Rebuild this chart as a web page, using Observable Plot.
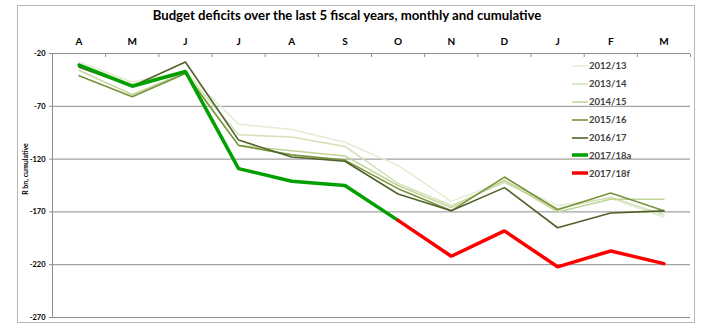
<!DOCTYPE html>
<html><head><meta charset="utf-8">
<script src="https://cdn.jsdelivr.net/npm/d3@7"></script>
<script src="https://cdn.jsdelivr.net/npm/@observablehq/plot@0.6"></script>
<style>
body{margin:0;background:#fff;font-family:Lato,"Open Sans",sans-serif;}
#wrap{position:relative;width:702px;height:327px;overflow:hidden;}
#frame{position:absolute;left:17px;top:5px;width:678px;height:318px;border:1px solid #b8b8b8;box-sizing:border-box;}
#title{position:absolute;left:0;width:694px;top:7px;text-align:center;font-weight:bold;font-size:13.2px;color:#000;}
#ylab{position:absolute;left:25px;top:169px;transform:translate(-50%,-50%) rotate(-90deg);font-size:7px;font-weight:bold;color:#000;white-space:nowrap;}
#legend{position:absolute;left:572px;top:57px;}
.li{display:flex;align-items:center;height:17.9px;font-size:9.5px;font-weight:bold;color:#404040;}
.sw{width:16px;margin-right:1px;}
#chart{position:absolute;left:0;top:0;}
</style></head>
<body>
<div id="wrap">
<div id="frame"></div>
<div id="chart"></div>
<div id="title">Budget deficits over the last 5 fiscal years, monthly and cumulative</div>
<div id="ylab">R bn, cumulative</div>
<div id="legend"></div>
</div>
<script>
const months = ["A","M","J","J","A","S","O","N","D","J","F","M"];
const yTicks = [-270,-220,-170,-120,-70,-20];
const seriesNames = ["2012/13","2013/14","2014/15","2015/16","2016/17","2017/18a","2017/18f"];
const seriesColors = ["#e4ecd3","#d3e0b6","#c0d497","#77933c","#4f6228","#00a000","#ff0000"];
const seriesWidths = [1.5,1.5,1.5,1.6,1.6,3.5,3.5];
const s2012 = [-28,-47,-37,-87,-92,-104,-126,-160,-141,-164,-157,-175];
const s2013 = [-30,-49,-38,-97,-99,-108,-143,-164,-142,-167,-156,-173];
const s2014 = [-36,-59,-38,-107,-112,-117,-145,-166,-140,-170,-158,-158];
const s2015 = [-41,-61,-39,-107,-116,-121,-148,-169,-137,-168,-152,-169];
const s2016 = [-33,-51,-28,-102,-118,-122,-153,-169,-147,-185,-171,-169];
const s2017a = [-31,-51,-37,-129,-141,-145,-178];
const s2017f = [null,null,null,null,null,null,-178,-212,-188,-222,-207,-219];
const allSeries = [s2012,s2013,s2014,s2015,s2016,s2017a,s2017f];

const marks = [
  Plot.ruleY(yTicks, {stroke:"#8c8c8c", strokeWidth:1}),
  Plot.ruleX([0], {stroke:"#8c8c8c", strokeWidth:1}),
  Plot.axisX({anchor:"top", label:null, ticks:d3.range(13), tickSize:-3, tickFormat:()=>"", stroke:"#8c8c8c"}),
  Plot.axisX({anchor:"top", label:null, ticks:d3.range(12).map(i=>i+0.5), tickSize:0, tickPadding:9,
    tickFormat:d=>months[Math.floor(d)], fontSize:10, fontWeight:"bold", fill:"#000"}),
  Plot.axisY({label:null, ticks:yTicks, tickSize:3, tickPadding:4, tickFormat:d=>String(d), fontSize:7.5, fontWeight:"bold", stroke:"#8c8c8c", fill:"#000"})
];
allSeries.forEach((vals, k) => {
  const data = vals.map((v,i)=>({x:i+0.5, v})).filter(d=>d.v!=null);
  marks.push(Plot.lineY(data, {x:"x", y:"v", stroke:seriesColors[k], strokeWidth:seriesWidths[k], strokeLinejoin:"miter"}));
});

const plot = Plot.plot({
  width:702, height:327,
  marginLeft:52, marginRight:12, marginTop:53, marginBottom:10,
  x:{domain:[0,12], axis:null, label:null},
  y:{domain:[-270,-20], axis:null, label:null},
  style:{fontFamily:"Lato, 'Open Sans', sans-serif", background:"transparent"},
  marks
});
document.getElementById("chart").appendChild(plot);

const leg = document.getElementById("legend");
seriesNames.forEach((n,k)=>{
  const row = document.createElement("div"); row.className="li";
  row.innerHTML = `<svg class="sw" width="16" height="6"><line x1="0" x2="16" y1="3" y2="3" stroke="${seriesColors[k]}" stroke-width="${seriesWidths[k]}"/></svg><span>${n}</span>`;
  leg.appendChild(row);
});
</script>
</body></html>
